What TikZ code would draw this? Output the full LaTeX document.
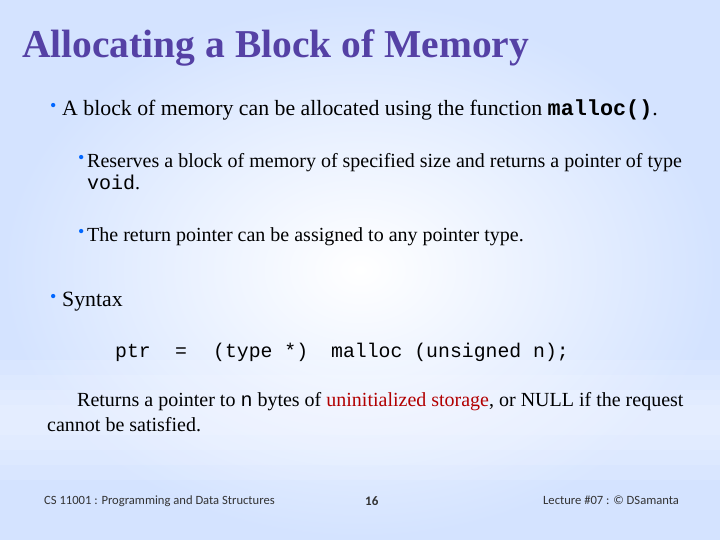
\documentclass[tikz,border=0pt]{standalone}
\usepackage{fontspec}
\setmainfont{Liberation Serif}
\setmonofont{Liberation Mono}
\newfontfamily\footfont{Carlito}
\begin{document}
\begin{tikzpicture}[x=1pt,y=-1pt,
  txt/.style={anchor=base west,inner sep=0pt,font=\fontsize{21.8}{24}\selectfont},
  subtxt/.style={anchor=base west,inner sep=0pt,font=\fontsize{20}{22}\selectfont},
  bul/.style={anchor=base west,inner sep=0pt,text=blue!60!cyan,font=\fontsize{18}{18}\selectfont},
  code/.style={anchor=base west,inner sep=0pt,font=\ttfamily\fontsize{19.8}{22}\selectfont},
  foot/.style={anchor=base west,inner sep=0pt,font=\footfont\fontsize{12.6}{14}\selectfont,text=black!80}]
\useasboundingbox (0,0) rectangle (720,540);
\shade[inner color=white,outer color=cyan!35!blue!17] (0,0) rectangle (720,540);
\foreach \a/\b in {360/480,375/465,390/450,405/435}
  \fill[white,opacity=0.12] (0,\a) rectangle (720,\b);
\node[anchor=base west,inner sep=0pt,font=\bfseries\fontsize{39.5}{44}\selectfont,text={rgb,255:red,85;green,65;blue,165}] (title) at (22,58) {Allocating a Block of Memory};
\node[bul] (b1) at (50,112) {\textbullet};
\node[txt] (t1) at (62,116) {A block of memory can be allocated using the function \texttt{\textbf{malloc()}}.};
\node[bul] (b2) at (78,164) {\textbullet};
\node[subtxt] (t2) at (87,168) {Reserves a block of memory of specified size and returns a pointer of type};
\node[subtxt] (t2b) at (87,190) {\texttt{void}.};
\node[bul] (b3) at (78,237) {\textbullet};
\node[subtxt] (t3) at (87,241) {The return pointer can be assigned to any pointer type.};
\node[bul] (b4) at (50,302) {\textbullet};
\node[txt] (t4) at (62,306) {Syntax};
\node[code] (c1) at (115,357) {ptr};
\node[code] (c2) at (175,357) {=};
\node[code] (c3) at (213,357) {(type *)};
\node[code] (c4) at (331,357) {malloc (unsigned n);};
\node[subtxt] (r1) at (77,406) {Returns a pointer to \texttt{n} bytes of \textcolor{red!70!black}{uninitialized storage}, or NULL if the request};
\node[subtxt] (r2) at (47,431) {cannot be satisfied.};
\node[foot] (f1) at (44,504) {CS 11001 : Programming and Data Structures};
\node[foot,font=\footfont\bfseries\fontsize{13}{14}\selectfont] (f2) at (365,505) {16};
\node[foot] (f3) at (543,504) {Lecture \#07 : © DSamanta};
\end{tikzpicture}
\end{document}
